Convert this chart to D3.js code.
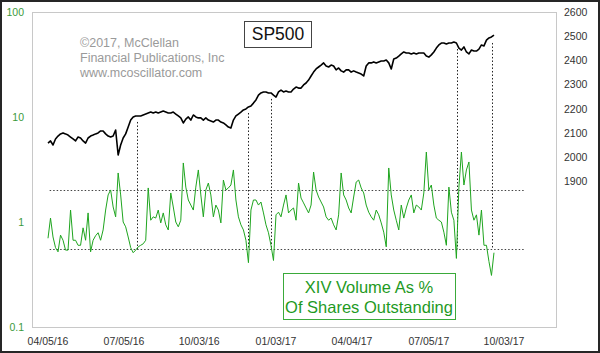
<!DOCTYPE html>
<html>
<head>
<meta charset="utf-8">
<script src="https://cdn.jsdelivr.net/npm/d3@7"></script>
<style>
  body { margin: 0; background: #fff; }
  svg { display: block; font-family: "Liberation Sans", Arial, sans-serif; }
</style>
</head>
<body>
<div id="chart"></div>
<script>
// --- Data (sampled every 3 calendar days from the start date) ---
const startDate = "2016-04-05";
const stepDays = 3;

const spValues = [
  2059, 2068, 2051, 2076, 2088, 2097, 2101, 2097, 2092, 2084,
  2076, 2068, 2084, 2080, 2068, 2059, 2080, 2088, 2092, 2097,
  2101, 2109, 2109, 2097, 2088, 2084, 2088, 2113, 2010, 2051,
  2080, 2097, 2125, 2154, 2167, 2171, 2171, 2171, 2175, 2179,
  2183, 2187, 2183, 2187, 2183, 2187, 2191, 2187, 2183, 2183,
  2187, 2179, 2171, 2163, 2142, 2158, 2167, 2154, 2175, 2167,
  2163, 2163, 2154, 2163, 2154, 2150, 2146, 2154, 2154, 2146,
  2142, 2134, 2125, 2121, 2154, 2171, 2179, 2187, 2196, 2200,
  2208, 2212, 2224, 2237, 2257, 2266, 2270, 2270, 2266, 2266,
  2257, 2249, 2270, 2278, 2270, 2274, 2270, 2270, 2282, 2290,
  2286, 2286, 2299, 2307, 2319, 2336, 2352, 2365, 2373, 2381,
  2390, 2377, 2373, 2381, 2377, 2361, 2369, 2357, 2352, 2361,
  2361, 2352, 2357, 2352, 2348, 2344, 2336, 2377, 2390, 2390,
  2394, 2390, 2394, 2398, 2398, 2402, 2390, 2365, 2406, 2410,
  2418, 2427, 2435, 2431, 2431, 2427, 2431, 2427, 2431, 2431,
  2431, 2418, 2414, 2423, 2435, 2451, 2464, 2472, 2472, 2468,
  2472, 2472, 2476, 2472, 2451, 2443, 2456, 2435, 2427, 2443,
  2439, 2439, 2447, 2464, 2460, 2484, 2493, 2497, 2505
];

const xivValues = [
  0.70, 1.09, 0.72, 0.57, 0.52, 0.75, 0.67, 0.54, 0.54, 1.30,
  0.67, 0.67, 0.60, 0.60, 0.88, 0.67, 1.22, 0.52, 0.67, 0.74,
  0.79, 0.67, 0.84, 1.30, 1.81, 2.02, 1.39, 1.12, 2.93, 1.81,
  1.00, 0.90, 0.72, 0.57, 0.51, 0.54, 0.58, 0.60, 0.62, 0.67,
  2.11, 1.04, 1.12, 1.09, 1.30, 0.98, 1.22, 0.94, 0.84, 1.89,
  1.39, 1.00, 0.90, 1.04, 3.65, 2.15, 1.62, 1.45, 1.30, 2.15,
  3.13, 1.81, 1.12, 2.02, 2.35, 1.81, 1.12, 1.45, 1.30, 0.98,
  2.51, 2.02, 2.11, 2.25, 3.13, 1.62, 1.12, 0.94, 0.84, 0.67,
  0.41, 1.30, 1.62, 1.62, 1.45, 1.55, 1.22, 0.94, 0.79, 0.60,
  0.43, 1.17, 1.24, 1.12, 1.45, 1.81, 1.22, 1.30, 1.36, 1.04,
  2.35, 1.69, 1.52, 1.36, 1.22, 1.45, 2.99, 2.02, 1.73, 1.55,
  1.39, 1.12, 1.04, 1.09, 0.94, 0.84, 1.17, 2.93, 1.81, 1.62,
  1.36, 1.22, 1.73, 2.40, 2.51, 2.11, 1.89, 1.45, 1.24, 1.12,
  1.04, 1.30, 1.17, 0.98, 0.80, 0.58, 3.27, 1.81, 1.30, 1.04,
  0.84, 1.45, 1.09, 1.36, 1.62, 1.81, 1.22, 1.45, 1.39, 1.30,
  1.89, 4.64, 2.02, 2.25, 1.45, 1.09, 1.04, 1.00, 0.80, 0.60,
  2.15, 1.24, 1.04, 0.45, 2.15, 4.64, 2.25, 3.13, 3.73, 1.30,
  1.04, 1.17, 0.75, 1.30, 0.60, 0.60, 0.42, 0.31, 0.51
];

const xTickDates = ["2016-04-05", "2016-07-05", "2016-10-03", "2017-01-03", "2017-04-04", "2017-07-05", "2017-10-03"];
const xTickLabels = ["04/05/16", "07/05/16", "10/03/16", "01/03/17", "04/04/17", "07/05/17", "10/03/17"];
const leftTicks = [0.1, 1, 10, 100];
const leftTickLabels = ["0.1", "1", "10", "100"];
const rightTicks = [1900, 2000, 2100, 2200, 2300, 2400, 2500, 2600];

const refLevels = [2.0, 0.55];
const refSpan = ["2016-04-07", "2017-10-27"];
const signalDates = ["2016-07-20", "2016-12-01", "2016-12-28", "2017-08-08", "2017-09-19"];

const creditLines = ["\u00a92017, McClellan", "Financial Publications, Inc", "www.mcoscillator.com"];
const titleText = "SP500";
const legendLines = ["XIV Volume As %", "Of Shares Outstanding"];

// --- Setup ---
const W = 600, H = 353;
const plot = { left: 32, top: 12, right: 556, bottom: 327 };
const parse = d3.timeParse("%Y-%m-%d");
const t0 = parse(startDate);

const spData = spValues.map((v, i) => ({ date: d3.timeDay.offset(t0, i * stepDays), v }));
const xivData = xivValues.map((v, i) => ({ date: d3.timeDay.offset(t0, i * stepDays), v }));

const x = d3.scaleTime()
  .domain([parse(xTickDates[0]), parse(xTickDates[xTickDates.length - 1])])
  .range([48, 504]);

const yLeft = d3.scaleLog().domain([0.1, 100]).range([plot.bottom, plot.top]);
const yRight = d3.scaleLinear().domain([1300, 2600]).range([plot.bottom, plot.top]);

const svg = d3.select("#chart").append("svg")
  .attr("width", W)
  .attr("height", H);

// outer frame
svg.append("rect")
  .attr("x", 1).attr("y", 1)
  .attr("width", W - 2).attr("height", H - 2)
  .attr("fill", "#fff")
  .attr("stroke", "#262626")
  .attr("stroke-width", 2);

// plot frame
svg.append("rect")
  .attr("x", plot.left + 0.5).attr("y", plot.top + 0.5)
  .attr("width", plot.right - plot.left).attr("height", plot.bottom - plot.top)
  .attr("fill", "#fff")
  .attr("stroke", "#c8c8c8");

// --- Axis labels ---
svg.selectAll(".ltick")
  .data(leftTicks)
  .join("text")
  .attr("class", "ltick")
  .attr("x", 24)
  .attr("y", d => yLeft(d))
  .attr("dy", "0.35em")
  .attr("text-anchor", "end")
  .style("font-size", "10.5px")
  .style("fill", "#3a9a3a")
  .text((d, i) => leftTickLabels[i]);

svg.selectAll(".rtick")
  .data(rightTicks)
  .join("text")
  .attr("class", "rtick")
  .attr("x", 564)
  .attr("y", d => yRight(d))
  .attr("dy", "0.35em")
  .style("font-size", "10.5px")
  .style("fill", "#333")
  .text(d => d);

svg.selectAll(".xtick")
  .data(xTickDates)
  .join("text")
  .attr("class", "xtick")
  .attr("x", d => x(parse(d)))
  .attr("y", 345)
  .attr("text-anchor", "middle")
  .style("font-size", "10.5px")
  .style("fill", "#333")
  .text((d, i) => xTickLabels[i]);

// --- Credit text ---
svg.selectAll(".credit")
  .data(creditLines)
  .join("text")
  .attr("class", "credit")
  .attr("x", 80)
  .attr("y", (d, i) => 47 + i * 15)
  .style("font-size", "12.5px")
  .style("fill", "#9a9a9a")
  .text(d => d);

// --- Reference lines (dotted) ---
svg.selectAll(".ref")
  .data(refLevels)
  .join("line")
  .attr("class", "ref")
  .attr("x1", x(parse(refSpan[0])))
  .attr("x2", x(parse(refSpan[1])))
  .attr("y1", d => Math.round(yLeft(d)) + 0.5)
  .attr("y2", d => Math.round(yLeft(d)) + 0.5)
  .attr("stroke", "#444")
  .attr("stroke-dasharray", "1.5,2");

// vertical signal lines, from the SP500 line down to the lower reference
const bisect = d3.bisector(d => d.date).center;
svg.selectAll(".signal")
  .data(signalDates)
  .join("line")
  .attr("class", "signal")
  .attr("x1", d => Math.round(x(parse(d))) + 0.5)
  .attr("x2", d => Math.round(x(parse(d))) + 0.5)
  .attr("y1", d => yRight(spData[bisect(spData, parse(d))].v) + 6)
  .attr("y2", yLeft(refLevels[1]))
  .attr("stroke", "#222")
  .attr("stroke-dasharray", "1.5,2");

// --- Series ---
svg.append("path")
  .datum(xivData)
  .attr("fill", "none")
  .attr("stroke", "#1fa51f")
  .attr("stroke-width", 1)
  .attr("d", d3.line().x(d => x(d.date)).y(d => yLeft(d.v)));

svg.append("path")
  .datum(spData)
  .attr("fill", "none")
  .attr("stroke", "#000")
  .attr("stroke-width", 1.6)
  .attr("stroke-linejoin", "round")
  .attr("d", d3.line().x(d => x(d.date)).y(d => yRight(d.v)));

// --- Title box ---
svg.append("rect")
  .attr("x", 244.5).attr("y", 21.5)
  .attr("width", 67).attr("height", 26)
  .attr("fill", "#fff")
  .attr("stroke", "#444");

svg.append("text")
  .attr("x", 278)
  .attr("y", 40)
  .attr("text-anchor", "middle")
  .style("font-size", "17.5px")
  .style("fill", "#111")
  .text(titleText);

// --- Legend box ---
svg.append("rect")
  .attr("x", 283.5).attr("y", 273.5)
  .attr("width", 172).attr("height", 46)
  .attr("fill", "#fff")
  .attr("stroke", "#3aaa3a");

svg.selectAll(".legend")
  .data(legendLines)
  .join("text")
  .attr("class", "legend")
  .attr("x", 369)
  .attr("y", (d, i) => 293 + i * 20)
  .attr("text-anchor", "middle")
  .style("font-size", "16.5px")
  .style("fill", "#1f9a1f")
  .text(d => d);
</script>
</body>
</html>
